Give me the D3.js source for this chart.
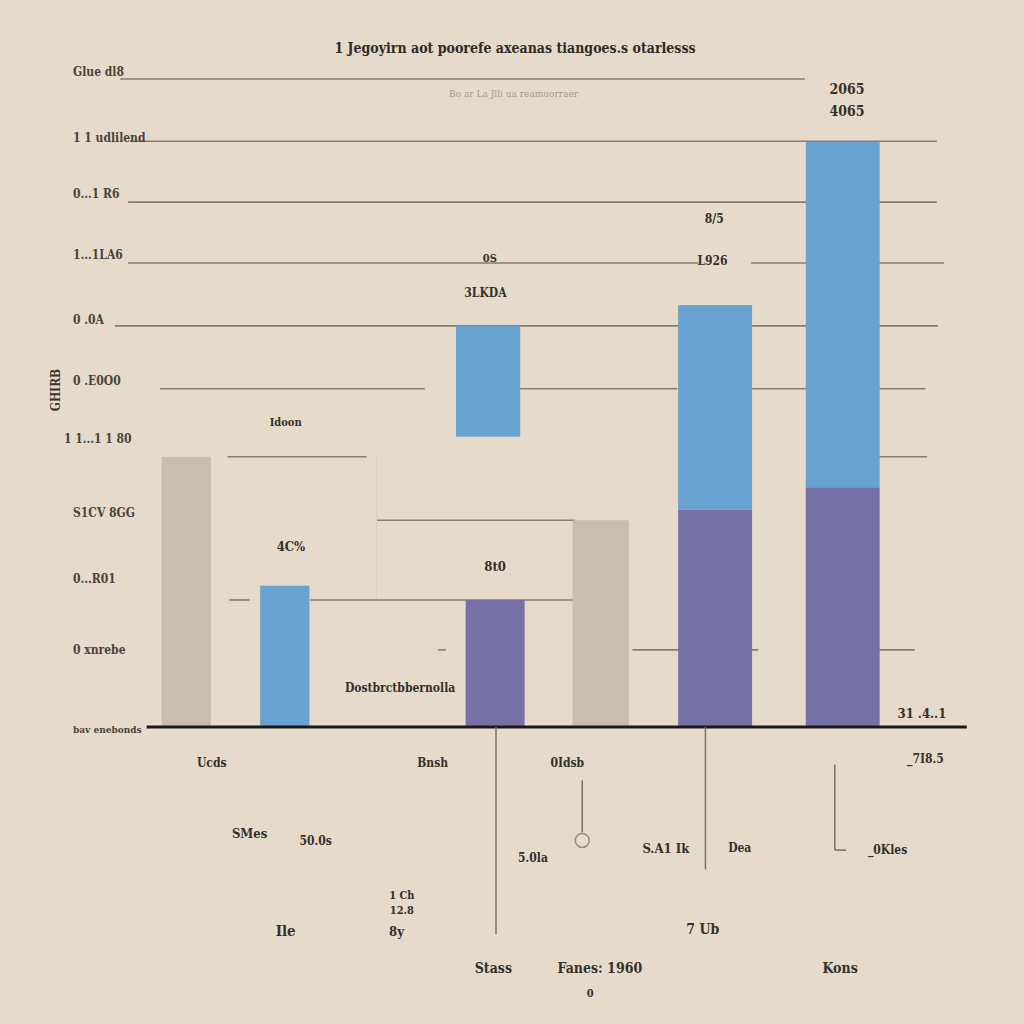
<!DOCTYPE html>
<html>
<head>
<meta charset="utf-8">
<script src="https://cdnjs.cloudflare.com/ajax/libs/d3/7.8.5/d3.min.js"></script>
<style>
  body { margin: 0; background: #e6dbca; }
  svg { display: block; }
</style>
</head>
<body>
<svg id="canvas" width="1024" height="1024"></svg>
<script>
// bars: [category, x position, width, bottom, top, series]
let categories = ['Ucds', 'SMes', 'Bnsh', 'Stass', '0Idsb', 'S.A1 Ik', 'Kons']
let barX      = [0.98, 2.10, 4.41, 4.49, 5.69, 6.99, 8.44]
let barW      = [0.56, 0.56, 0.73, 0.67, 0.64, 0.84, 0.84]
let lowValues  = [0, 0, 4.48, 0, 0, 0, 0]
let midValues  = [4.17, 2.18, 6.19, 1.96, 3.19, 3.35, 3.70]
let highValues = [null, null, null, null, null, 6.51, 9.03]
let seriesOf   = ['tan', 'blue', 'blue', 'purple', 'tan', 'purple', 'purple']

let colors = { tan: '#c9beae', blue: '#68a2d0', purple: '#7770a6' }

// gridlines: [value, from, to]
let gridSegments = [
  [10.0, 0.23, 8.01], [9.04, 0.34, 9.51], [8.10, 0.32, 9.51],
  [7.16, 0.32, 6.8], [7.16, 7.4, 9.59], [6.19, 0.17, 9.52],
  [5.22, 0.68, 3.69], [5.22, 4.77, 6.56], [5.22, 7.4, 9.38],
  [4.17, 1.45, 3.03], [4.17, 8.64, 9.4], [3.19, 3.15, 5.4],
  [1.96, 1.47, 1.70], [1.96, 2.39, 5.4], [1.19, 3.84, 3.93],
  [1.19, 6.05, 7.48], [1.19, 8.64, 9.26]
]
let yTickLabels = ['Glue  dl8', '1 1 udlilend', '0...1  R6', '1...1LA6', '0  .0A',
  '0  .E0O0', '1 1...1 1  80', 'S1CV  8GG', '0...R01', '0  xnrebe', 'bav enebonds']
let yTickValues = [10.06, 9.04, 8.18, 7.24, 6.24, 5.3, 4.4, 3.26, 2.24, 1.14, -0.08]

// loose annotations: [text, x, value, size]
let notes = [
  ['Idoon', 2.11, 4.7, 11], ['4C%', 2.17, 2.78, 13], ['8t0', 4.49, 2.48, 13],
  ['Dostbrctbbernolla', 3.41, 0.6, 12], ['0S', 4.43, 7.24, 11], ['3LKDA', 4.38, 6.7, 12],
  ['8/5', 6.98, 7.84, 12], ['L926', 6.96, 7.2, 12], ['2065', 8.49, 9.84, 14],
  ['4065', 8.49, 9.5, 14], ['31 .4..1', 9.34, 0.21, 13]
]
let lowerNotes = [
  ['Ucds', 1.27, -0.55, 12], ['Bnsh', 3.78, -0.55, 12], ['0Idsb', 5.31, -0.55, 12],
  ['_7I8.5', 9.38, -0.49, 12], ['SMes', 1.7, -1.65, 13], ['50.0s', 2.45, -1.76, 12],
  ['5.0la', 4.92, -2.02, 12], ['S.A1 Ik', 6.43, -1.87, 13], ['Dea', 7.27, -1.87, 12],
  ['_0Kles', 8.95, -1.9, 12], ['1 Ch', 3.43, -2.6, 11], ['12.8', 3.43, -2.83, 11],
  ['Ile', 2.11, -3.15, 15], ['8y', 3.37, -3.15, 13], ['7  Ub', 6.85, -3.12, 14],
  ['Stass', 4.47, -3.72, 14], ['Fanes: 1960', 5.68, -3.72, 14], ['0', 5.57, -4.1, 11],
  ['Kons', 8.41, -3.72, 14]
]

let canvas = d3.select('#canvas')
let x = d3.scaleLinear().domain([0, 10]).range([100, 980])
let y = d3.scaleLinear().domain([0, 10]).range([727, 79])

canvas.append('rect').attr('width', 1024).attr('height', 1024).attr('fill', '#e6dbca')

// faint panel edges
canvas.append('g').selectAll('line')
  .data([[3.14, 4.17, 1.96], [5.4, 3.19, 0.05]])
  .enter().append('line')
  .attr('x1', d => x(d[0])).attr('x2', d => x(d[0]))
  .attr('y1', d => y(d[1])).attr('y2', d => y(d[2]))
  .attr('stroke', '#d8cdbb').attr('stroke-width', 1)

canvas.append('g').selectAll('line')
  .data(gridSegments)
  .enter().append('line')
  .attr('x1', d => x(d[1])).attr('x2', d => x(d[2]))
  .attr('y1', d => y(d[0])).attr('y2', d => y(d[0]))
  .attr('stroke', '#8a7c6c').attr('stroke-width', 1.6)

// bars
let bars = canvas.append('g')
categories.forEach((c, i) => {
  let w = x(barW[i]) - x(0)
  bars.append('rect')
    .attr('x', x(barX[i]) - w / 2).attr('width', w)
    .attr('y', y(midValues[i])).attr('height', y(lowValues[i]) - y(midValues[i]))
    .attr('fill', colors[seriesOf[i]])
  if (highValues[i] != null) {
    bars.append('rect')
      .attr('x', x(barX[i]) - w / 2).attr('width', w)
      .attr('y', y(highValues[i])).attr('height', y(midValues[i]) - y(highValues[i]))
      .attr('fill', colors.blue)
  }
})

// baseline
canvas.append('line')
  .attr('x1', x(0.53)).attr('x2', x(9.85))
  .attr('y1', y(0)).attr('y2', y(0))
  .attr('stroke', '#1c1a18').attr('stroke-width', 3)

// leader lines below the axis
let leaders = [[4.5, 0, -3.2], [6.88, 0, -2.2], [8.35, -0.58, -1.9], [5.48, -0.82, -1.63]]
canvas.append('g').selectAll('line')
  .data(leaders)
  .enter().append('line')
  .attr('x1', d => x(d[0])).attr('x2', d => x(d[0]))
  .attr('y1', d => y(d[1])).attr('y2', d => y(d[2]))
  .attr('stroke', '#7d6f60').attr('stroke-width', 1.5)
canvas.append('line')
  .attr('x1', x(8.35)).attr('x2', x(8.48))
  .attr('y1', y(-1.9)).attr('y2', y(-1.9))
  .attr('stroke', '#7d6f60').attr('stroke-width', 1.5)
canvas.append('circle')
  .attr('cx', x(5.48)).attr('cy', y(-1.75)).attr('r', 7)
  .attr('fill', 'none').attr('stroke', '#9a8c7c').attr('stroke-width', 1.5)

let font = "'DejaVu Serif Condensed', 'Liberation Serif', serif"

canvas.append('text')
  .attr('x', 515).attr('y', 48).attr('dy', '0.35em').attr('text-anchor', 'middle')
  .attr('font-family', font).attr('font-size', 14).attr('font-weight', 'bold')
  .attr('fill', '#2e2a26')
  .text('1 Jegoyirn aot poorefe axeanas tiangoes.s otarlesss')
canvas.append('text')
  .attr('x', x(4.7)).attr('y', y(9.78)).attr('dy', '0.35em').attr('text-anchor', 'middle')
  .attr('font-family', font).attr('font-size', 10).attr('fill', '#a89a8a')
  .text('Bo ar La Jlli ua reamuorraer')

canvas.append('g').selectAll('text')
  .data(yTickLabels)
  .enter().append('text')
  .attr('x', (d, i) => i == 6 ? 64 : 73)
  .attr('y', (d, i) => y(yTickValues[i]) - 3)
  .attr('dy', '0.35em')
  .attr('font-family', font).attr('font-size', (d, i) => i == 10 ? 10 : 12)
  .attr('font-weight', 'bold').attr('fill', '#4a423a')
  .text(d => d)

canvas.append('text')
  .attr('transform', `translate(56, ${y(5.2)}) rotate(-90)`)
  .attr('text-anchor', 'middle').attr('dy', '0.35em')
  .attr('font-family', font).attr('font-size', 12).attr('font-weight', 'bold')
  .attr('fill', '#3a342e')
  .text('GHIRB')

canvas.append('g').selectAll('text')
  .data(notes.concat(lowerNotes))
  .enter().append('text')
  .attr('x', d => x(d[1])).attr('y', d => y(d[2]))
  .attr('dy', '0.35em')
  .attr('text-anchor', 'middle')
  .attr('font-family', font).attr('font-size', d => d[3])
  .attr('font-weight', 'bold').attr('fill', '#34302b')
  .text(d => d[0])
</script>
</body>
</html>
